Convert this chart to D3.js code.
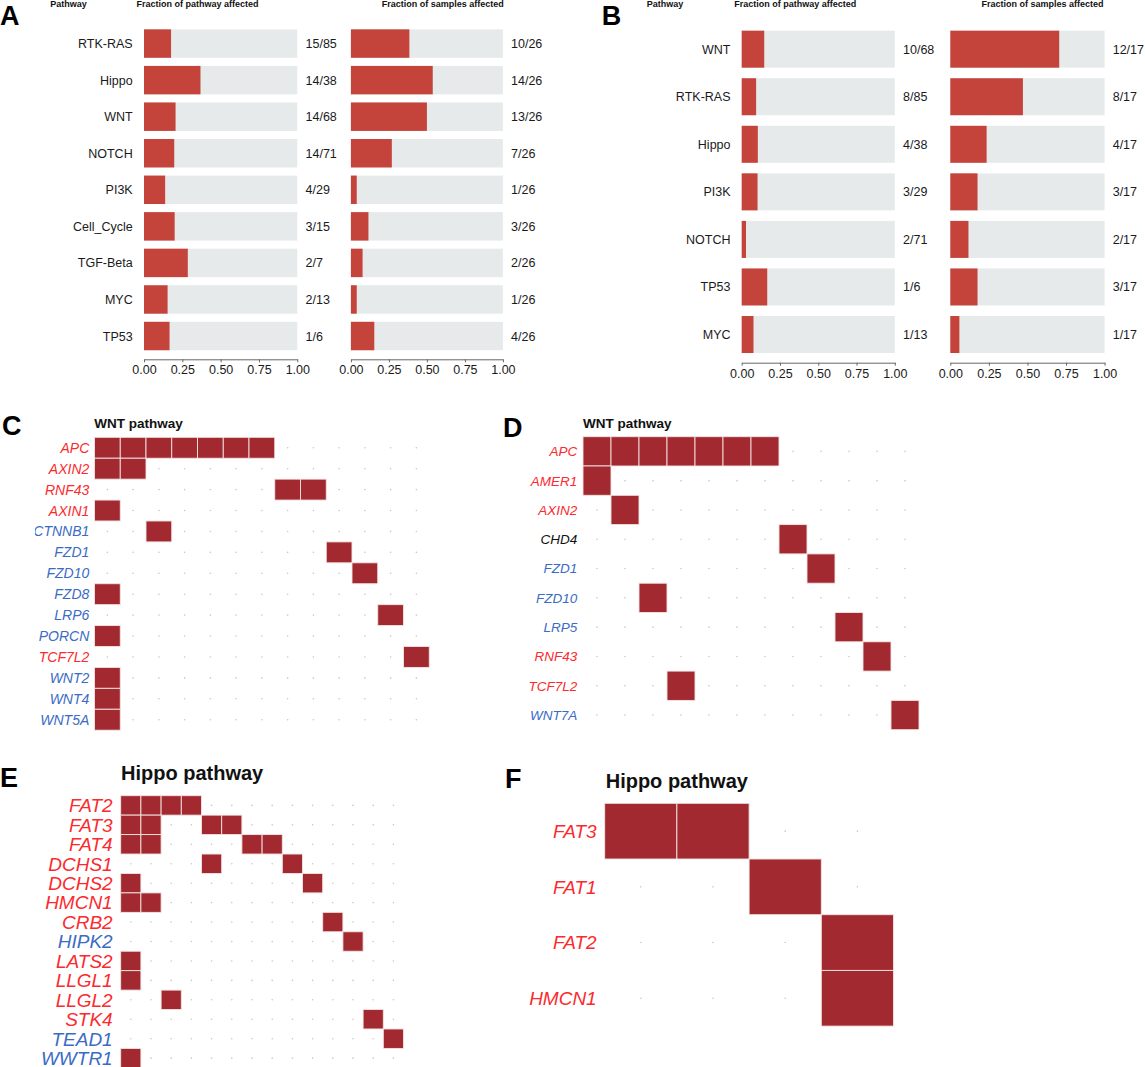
<!DOCTYPE html>
<html>
<head>
<meta charset="utf-8">
<script src="https://cdn.jsdelivr.net/npm/d3@7"></script>
<style>
body { margin: 0; background: #fff; }
svg text { font-family: "Liberation Sans", Arial, Helvetica, sans-serif; }
</style>
</head>
<body>
<svg id="fig" width="1145" height="1067"></svg>
<script>
// ---- panel A / B : pathway summary ----
let pathwaysA = ["RTK-RAS", "Hippo", "WNT", "NOTCH", "PI3K", "Cell_Cycle", "TGF-Beta", "MYC", "TP53"];
let genesHitA = [15, 14, 14, 14, 4, 3, 2, 2, 1];
let pathwaySizeA = [85, 38, 68, 71, 29, 15, 7, 13, 6];
let samplesHitA = [10, 14, 13, 7, 1, 3, 2, 1, 4];
let cohortA = 26;

let pathwaysB = ["WNT", "RTK-RAS", "Hippo", "PI3K", "NOTCH", "TP53", "MYC"];
let genesHitB = [10, 8, 4, 3, 2, 1, 1];
let pathwaySizeB = [68, 85, 38, 29, 71, 6, 13];
let samplesHitB = [12, 8, 4, 3, 2, 3, 1];
let cohortB = 17;

let fractionTicks = [0, 0.25, 0.5, 0.75, 1];

// ---- panel C / D : WNT pathway oncoplots ----
let genesC = ["APC", "AXIN2", "RNF43", "AXIN1", "CTNNB1", "FZD1", "FZD10", "FZD8", "LRP6", "PORCN", "TCF7L2", "WNT2", "WNT4", "WNT5A"];
let rolesC = ["TSG", "TSG", "TSG", "TSG", "OG", "OG", "OG", "OG", "OG", "OG", "TSG", "OG", "OG", "OG"];
let mutatedC = [[0, 1, 2, 3, 4, 5, 6], [0, 1], [7, 8], [0], [2], [9], [10], [0], [11], [0], [12], [0], [0], [0]];
let nSamplesC = 13;

let genesD = ["APC", "AMER1", "AXIN2", "CHD4", "FZD1", "FZD10", "LRP5", "RNF43", "TCF7L2", "WNT7A"];
let rolesD = ["TSG", "TSG", "TSG", "NA", "OG", "OG", "OG", "TSG", "TSG", "OG"];
let mutatedD = [[0, 1, 2, 3, 4, 5, 6], [0], [1], [7], [8], [2], [9], [10], [3], [11]];
let nSamplesD = 12;

// ---- panel E / F : Hippo pathway oncoplots ----
let genesE = ["FAT2", "FAT3", "FAT4", "DCHS1", "DCHS2", "HMCN1", "CRB2", "HIPK2", "LATS2", "LLGL1", "LLGL2", "STK4", "TEAD1", "WWTR1"];
let rolesE = ["TSG", "TSG", "TSG", "TSG", "TSG", "TSG", "TSG", "OG", "TSG", "TSG", "TSG", "TSG", "OG", "OG"];
let mutatedE = [[0, 1, 2, 3], [0, 1, 4, 5], [0, 1, 6, 7], [4, 8], [0, 9], [0, 1], [10], [11], [0], [0], [2], [12], [13], [0]];
let nSamplesE = 14;

let genesF = ["FAT3", "FAT1", "FAT2", "HMCN1"];
let rolesF = ["TSG", "TSG", "TSG", "TSG"];
let mutatedF = [[0, 1], [2], [3], [3]];
let nSamplesF = 4;

let barRed = "#c4433a";
let barBack = "#e6eaeb";
let tileRed = "#a1292f";
let roleColor = {TSG: "#fb2a2e", OG: "#3a6bc5", NA: "#111111"};

let svg = d3.select("#fig");

/**
*   draws one horizontal fraction chart (grey track + red fraction + n/N label)
*/
function drawFractionBars(g, names, hits, totals, xRange, yScale, labelX, axisY) {
    let xScale = d3.scaleLinear().domain([0, 1]).range(xRange);

    g.selectAll(".track")
        .data(names)
        .enter()
        .append("rect")
        .attr("x", xScale(0))
        .attr("y", d => yScale(d))
        .attr("width", xScale(1) - xScale(0))
        .attr("height", yScale.bandwidth())
        .attr("fill", barBack);

    g.selectAll(".frac")
        .data(names)
        .enter()
        .append("rect")
        .attr("x", xScale(0))
        .attr("y", d => yScale(d))
        .attr("width", (d, i) => xScale(hits[i] / totals[i]) - xScale(0))
        .attr("height", yScale.bandwidth())
        .attr("fill", barRed);

    g.selectAll(".fracLabel")
        .data(names)
        .enter()
        .append("text")
        .attr("x", labelX)
        .attr("y", d => yScale(d) + yScale.bandwidth() / 2)
        .attr("dy", "0.36em")
        .attr("font-size", 12.5)
        .attr("fill", "#1a1a1a")
        .text((d, i) => hits[i] + "/" + totals[i]);

    let axis = g.append("g")
        .attr("transform", "translate(0," + axisY + ")")
        .call(d3.axisBottom(xScale)
            .tickValues(fractionTicks)
            .tickFormat(d3.format(".2f"))
            .tickSize(3)
            .tickSizeOuter(0)
            .tickPadding(3));
    axis.select(".domain").attr("stroke", "#666");
    axis.selectAll(".tick line").attr("stroke", "#666");
    axis.selectAll("text")
        .attr("font-size", 12.5)
        .attr("font-family", "Liberation Sans, Arial, sans-serif")
        .attr("fill", "#1a1a1a");
}

function drawPathwayPanel(cfg) {
    let g = svg.append("g");
    let yScale = d3.scaleBand()
        .domain(cfg.names)
        .range(cfg.yRange)
        .paddingInner(0.222)
        .paddingOuter(0.111);

    // pathway names
    g.selectAll(".pname")
        .data(cfg.names)
        .enter()
        .append("text")
        .attr("x", cfg.nameX)
        .attr("y", d => yScale(d) + yScale.bandwidth() / 2)
        .attr("dy", "0.36em")
        .attr("text-anchor", "end")
        .attr("font-size", 12.5)
        .attr("fill", "#1a1a1a")
        .text(d => d);

    let totals = cfg.names.map(() => cfg.cohort);
    drawFractionBars(g, cfg.names, cfg.genesHit, cfg.sizes, cfg.leftRange, yScale, cfg.leftLabelX, cfg.axisY);
    drawFractionBars(g, cfg.names, cfg.samplesHit, totals, cfg.rightRange, yScale, cfg.rightLabelX, cfg.axisY);

    // column headers
    cfg.headers.forEach(function(h) {
        g.append("text")
            .attr("x", h[1])
            .attr("y", 6.5)
            .attr("font-size", 9)
            .attr("font-weight", "bold")
            .attr("fill", "#111")
            .text(h[0]);
    });
}

function drawOncoPanel(cfg) {
    let g = svg.append("g");
    let cols = d3.range(cfg.nSamples);
    let xScale = d3.scaleBand()
        .domain(cols)
        .range([cfg.x0, cfg.x0 + cfg.colStep * cfg.nSamples]);
    let yScale = d3.scaleBand()
        .domain(cfg.genes)
        .range([cfg.y0, cfg.y0 + cfg.rowStep * cfg.genes.length]);

    // faint dots for every cell
    cfg.genes.forEach(function(gene) {
        g.selectAll(null)
            .data(cols)
            .enter()
            .append("circle")
            .attr("cx", d => xScale(d) + xScale.bandwidth() / 2)
            .attr("cy", yScale(gene) + yScale.bandwidth() / 2)
            .attr("r", 0.8)
            .attr("fill", "#c8c8c8");
    });

    // mutated cells
    cfg.genes.forEach(function(gene, i) {
        g.selectAll(null)
            .data(cfg.mutated[i])
            .enter()
            .append("rect")
            .attr("x", d => xScale(d))
            .attr("y", yScale(gene))
            .attr("width", xScale.bandwidth())
            .attr("height", yScale.bandwidth())
            .attr("fill", tileRed)
            .attr("stroke", "#f4e4e4")
            .attr("stroke-width", 0.9);
    });

    let labels = g.append("g");
    if (cfg.clipX) {
        svg.append("clipPath").attr("id", "clip" + cfg.id)
            .append("rect")
            .attr("x", cfg.clipX).attr("y", 0)
            .attr("width", 1145).attr("height", 1067);
        labels.attr("clip-path", "url(#clip" + cfg.id + ")");
    }
    labels.selectAll("text")
        .data(cfg.genes)
        .enter()
        .append("text")
        .attr("x", cfg.labelX)
        .attr("y", d => yScale(d) + yScale.bandwidth() / 2)
        .attr("dy", "0.36em")
        .attr("text-anchor", "end")
        .attr("font-style", "italic")
        .attr("font-size", cfg.labelSize)
        .attr("fill", (d, i) => roleColor[cfg.roles[i]])
        .text(d => d);

    g.append("text")
        .attr("x", cfg.titleX)
        .attr("y", cfg.titleY)
        .attr("font-size", cfg.titleSize)
        .attr("font-weight", "bold")
        .attr("fill", "#111")
        .text(cfg.title);
}

drawPathwayPanel({
    names: pathwaysA, genesHit: genesHitA, sizes: pathwaySizeA,
    samplesHit: samplesHitA, cohort: cohortA,
    yRange: [25.3, 354.3], nameX: 132.7,
    leftRange: [144, 297.3], rightRange: [350.9, 502.9],
    leftLabelX: 305.5, rightLabelX: 511, axisY: 359.3,
    headers: [["Pathway", 50.2], ["Fraction of pathway affected", 136.4], ["Fraction of samples affected", 381.8]]
});

drawPathwayPanel({
    names: pathwaysB, genesHit: genesHitB, sizes: pathwaySizeB,
    samplesHit: samplesHitB, cohort: cohortB,
    yRange: [25.4, 358.3], nameX: 730.5,
    leftRange: [741.7, 894.8], rightRange: [950.3, 1104.6],
    leftLabelX: 903, rightLabelX: 1112.7, axisY: 362.7,
    headers: [["Pathway", 646.7], ["Fraction of pathway affected", 734.3], ["Fraction of samples affected", 981.4]]
});

drawOncoPanel({
    id: "C", genes: genesC, roles: rolesC, mutated: mutatedC, nSamples: nSamplesC,
    x0: 94.5, colStep: 25.75, y0: 437.3, rowStep: 20.92,
    labelX: 89.3, labelSize: 14, clipX: 35,
    title: "WNT pathway", titleX: 94.3, titleY: 428, titleSize: 13.5
});

drawOncoPanel({
    id: "D", genes: genesD, roles: rolesD, mutated: mutatedD, nSamples: nSamplesD,
    x0: 583, colStep: 28, y0: 436.7, rowStep: 29.3,
    labelX: 577.3, labelSize: 13.5,
    title: "WNT pathway", titleX: 583, titleY: 428, titleSize: 13.5
});

drawOncoPanel({
    id: "E", genes: genesE, roles: rolesE, mutated: mutatedE, nSamples: nSamplesE,
    x0: 120.7, colStep: 20.2, y0: 795.7, rowStep: 19.44,
    labelX: 112.7, labelSize: 19,
    title: "Hippo pathway", titleX: 121, titleY: 780, titleSize: 20
});

drawOncoPanel({
    id: "F", genes: genesF, roles: rolesF, mutated: mutatedF, nSamples: nSamplesF,
    x0: 604.7, colStep: 72.2, y0: 803.3, rowStep: 55.7,
    labelX: 596.7, labelSize: 19,
    title: "Hippo pathway", titleX: 605.7, titleY: 788, titleSize: 20
});

// panel letters
let letters = [["A", 0, 25], ["B", 601.7, 25], ["C", 2, 435], ["D", 503, 437], ["E", 0, 787], ["F", 505, 788]];
svg.selectAll(".letter")
    .data(letters)
    .enter()
    .append("text")
    .attr("x", d => d[1])
    .attr("y", d => d[2])
    .attr("font-size", 27)
    .attr("font-weight", "bold")
    .attr("fill", "#000")
    .text(d => d[0]);
</script>
</body>
</html>
